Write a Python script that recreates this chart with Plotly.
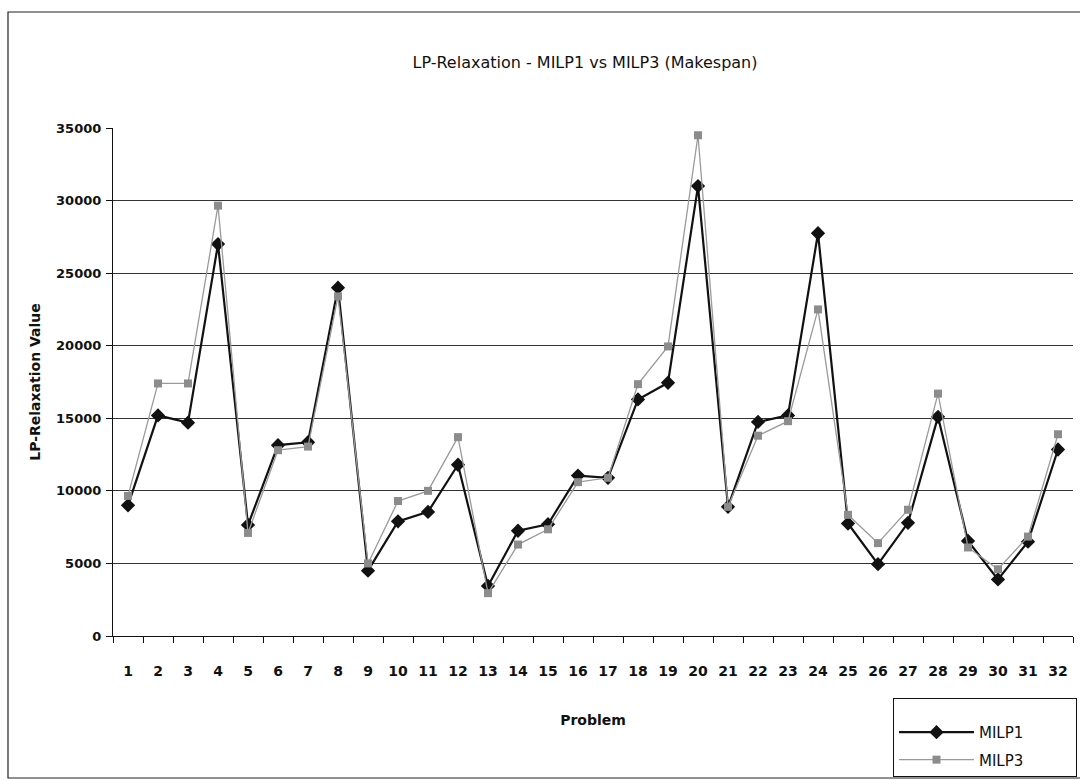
import plotly.graph_objects as go

# Problem instances 1..32
problems = [str(i) for i in range(1, 33)]

# LP-relaxation makespan values
milp1 = [9000, 15200, 14700, 27000, 7650, 13150, 13350, 24000, 4500, 7900,
         8550, 11800, 3450, 7250, 7700, 11050, 10900, 16300, 17450, 31000,
         8900, 14750, 15200, 27750, 7750, 4950, 7800, 15100, 6550, 3900,
         6500, 12850]
milp3 = [9650, 17400, 17400, 29650, 7100, 12800, 13050, 23400, 5000, 9300,
         10000, 13700, 2950, 6300, 7350, 10600, 10900, 17350, 19950, 34500,
         8900, 13800, 14800, 22500, 8350, 6400, 8700, 16700, 6100, 4600,
         6850, 13900]

y_ticks = [0, 5000, 10000, 15000, 20000, 25000, 30000, 35000]

FONT = "DejaVu Sans"

fig = go.Figure()
fig.add_trace(go.Scatter(
    x=problems, y=milp1, name="MILP1", mode="lines+markers", legendgroup="a",
    line=dict(color="#111111", width=2.2),
    marker=dict(symbol="diamond", size=11, color="#111111"),
))
fig.add_trace(go.Scatter(
    x=problems, y=milp3, name="MILP3", mode="lines+markers", legendgroup="b",
    line=dict(color="#9a9a9a", width=1.3),
    marker=dict(symbol="square", size=8, color="#8c8c8c"),
))

l, r, t, b = 113, 7, 128, 144
W, H = 1080, 780
pw, ph = W - l - r, H - t - b

def px(x):
    return (x - l) / pw

def py(y):
    return (H - b - y) / ph

fig.update_layout(
    width=W, height=H,
    margin=dict(l=l, r=r, t=t, b=b, pad=0, autoexpand=False),
    paper_bgcolor="white", plot_bgcolor="white",
    font=dict(family=FONT, color="#111111"),
    title=dict(
        text="LP-Relaxation - MILP1 vs MILP3 (Makespan)",
        x=585 / W, xanchor="center", y=1 - 62 / H, yanchor="middle",
        font=dict(size=16, family=FONT, color="#111111"),
    ),
    xaxis=dict(
        type="category", range=[-0.5, 31.5], tickson="boundaries",
        ticks="outside", ticklen=6, tickangle=0, ticklabelstandoff=22,
        tickcolor="#111111", showline=True, linecolor="#111111", linewidth=1.2,
        showgrid=False, tickfont=dict(size=14, family=FONT, weight="bold"),
        title=dict(text="Problem", font=dict(size=14, family=FONT, weight="bold"),
                   standoff=37),
    ),
    yaxis=dict(
        range=[0, 35000], tickvals=y_ticks, tickformat="d", ticks="outside",
        ticklen=6, ticklabelstandoff=2,
        tickcolor="#111111", showline=True, linecolor="#111111", linewidth=1.2,
        showgrid=True, gridcolor="#333333", gridwidth=1, zeroline=False,
        tickfont=dict(size=13, family=FONT, weight="bold"),
        title=dict(text="LP-Relaxation Value",
                   font=dict(size=14, family=FONT, weight="bold"), standoff=12),
    ),
    legend=dict(
        x=px(893), y=py(698), xanchor="left", yanchor="top",
        bordercolor="#111111", borderwidth=1, bgcolor="white",
        font=dict(size=15, family=FONT), itemwidth=75,
        tracegroupgap=5,
        # blank heading pads the box top and widens it
        title=dict(text="\u00a0" * 43, font=dict(size=13)),
    ),
    shapes=[dict(
        type="rect", xref="paper", yref="paper",
        x0=px(8), x1=px(1095), y0=py(778), y1=py(12),
        line=dict(color="#222222", width=1.2), fillcolor="rgba(0,0,0,0)",
        layer="below",
    )],
)

fig.write_html("out.html")
